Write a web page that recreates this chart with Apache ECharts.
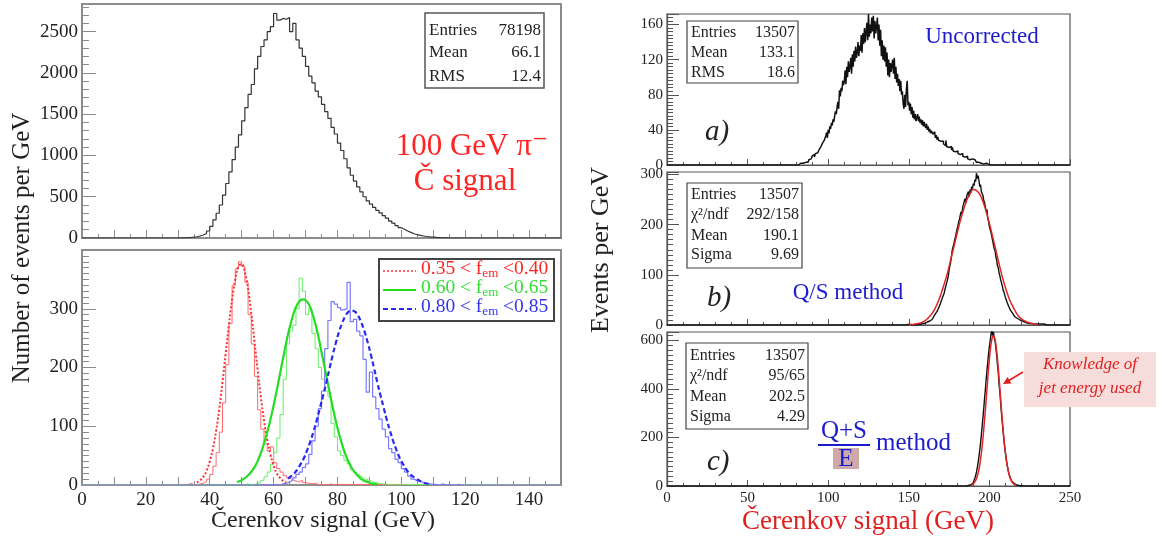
<!DOCTYPE html>
<html>
<head>
<meta charset="utf-8">
<script src="https://cdn.jsdelivr.net/npm/echarts@6.0.0/dist/echarts.min.js"></script>
<style>
html, body { margin: 0; padding: 0; background: #fff; }
#chart { width: 1164px; height: 550px; }
</style>
</head>
<body>
<div id="chart"></div>
<script>
const FONT = '"Liberation Serif", "DejaVu Serif", serif';

// ---- left: 100 GeV pi-, Cerenkov signal, 1 GeV bins (lower edge = start + i)
const allStart = 30;
const allBins = [1, 2, 4, 6, 10, 15, 24, 36, 55, 85,
  140, 220, 300, 400, 520, 660, 800, 950, 1100, 1250,
  1420, 1580, 1740, 1860, 2050, 2200, 2320, 2400, 2500, 2560,
  2720, 2640, 2660, 2650, 2670, 2500, 2600, 2400, 2300, 2200,
  2080, 1960, 1880, 1780, 1710, 1620, 1530, 1450, 1340, 1260,
  1150, 1060, 960, 850, 760, 690, 620, 560, 500, 450,
  410, 370, 335, 305, 270, 240, 205, 180, 150, 125,
  105, 85, 68, 52, 40, 32, 24, 18, 13, 10,
  7, 5, 3, 2, 1];

// f_em slices
const redStart = 30;
const redBins = [1, 0, 0, 3, 1, 0, 2, 3, 6, 10,
  18, 32, 55, 90, 140, 205, 275, 340, 368, 380,
  372, 345, 290, 240, 185, 128, 95, 70, 58, 65,
  38, 28, 22, 16, 12, 9, 7, 5, 8, 4,
  3, 2, 3, 1, 1, 0, 0, 2, 0, 1];
const redFitStart = 36;
const redFit = [4, 8, 14, 24, 40, 62, 92, 130, 175, 224, 272, 316, 350, 372, 376,
  362, 334, 292, 245, 196, 150, 110, 77, 52, 33, 20, 12, 7, 4];

const greenStart = 51;
const greenBins = [2, 0, 1, 3, 4, 8, 14, 22, 35, 55,
  80, 120, 180, 240, 262, 272, 300, 352, 330, 290,
  300, 258, 232, 200, 180, 160, 150, 105, 82, 58,
  50, 42, 36, 26, 22, 18, 14, 10, 8, 6,
  4, 3, 2, 2, 1, 0, 1, 0, 0, 1];
const greenFitStart = 48.5;
const greenFit = [5, 7, 10, 14, 19, 26, 35, 47, 62, 80, 100, 123, 148, 175, 203,
  230, 256, 278, 296, 308, 315, 316, 312, 302, 286, 265, 240, 213, 186, 159,
  133, 108, 87, 68, 52, 39, 29, 21, 15, 10, 7, 5, 3, 2, 1];

const blueStart = 60;
const blueBins = [1, 0, 2, 3, 5, 8, 12, 18, 22, 30,
  36, 52, 75, 100, 130, 160, 232, 280, 312, 308,
  302, 298, 300, 345, 278, 282, 262, 254, 214, 158,
  192, 150, 130, 112, 95, 82, 62, 55, 44, 38,
  28, 22, 15, 10, 7, 6, 4, 3, 2, 1,
  1, 0, 2, 0, 1, 0, 0, 1, 0, 0];
const blueFitStart = 64.5;
const blueFit = [11, 15, 20, 27, 36, 46, 59, 74, 91, 110, 131, 152, 174, 198, 221,
  242, 261, 276, 288, 295, 297, 295, 288, 276, 261, 242, 221, 198, 174, 152,
  131, 110, 91, 74, 59, 46, 36, 27, 20, 15, 11, 8, 5, 3, 2];

// ---- right: jet events, 0.5 GeV bins
const rawStart = 80;
const rawBins = [0, 1, 0, 0, 1, 2, 0, 1, 2, 1,
  2, 3, 1, 4, 3, 5, 6, 4, 7, 9,
  10, 8, 12, 9, 13, 11, 14, 16, 13, 18,
  17, 21, 19, 25, 23, 28, 26, 33, 37, 31,
  40, 36, 44, 41, 48, 45, 52, 49, 56, 61,
  58, 66, 72, 64, 85, 78, 88, 84, 96, 91,
  95, 108, 92, 112, 100, 118, 106, 112, 122, 104,
  126, 112, 130, 118, 135, 122, 128, 140, 124, 136,
  130, 148, 128, 150, 138, 156, 140, 152, 162, 142,
  172, 146, 160, 150, 168, 152, 170, 144, 164, 150,
  158, 168, 142, 160, 136, 154, 124, 142, 120, 136,
  118, 134, 112, 128, 102, 120, 100, 116, 106, 114,
  120, 104, 122, 98, 112, 94, 104, 90, 98, 84,
  96, 80, 84, 70, 64, 80, 66, 86, 96, 68,
  72, 62, 70, 58, 66, 54, 62, 52, 58, 50,
  54, 58, 50, 55, 48, 52, 46, 51, 44, 49,
  45, 42, 47, 40, 44, 38, 41, 36, 39, 37,
  35, 33, 38, 31, 34, 29, 32, 28, 30, 27,
  29, 25, 27, 24, 26, 22, 28, 21, 23, 20,
  22, 19, 21, 17, 20, 16, 18, 15, 17, 14,
  16, 13, 15, 12, 14, 11, 13, 10, 12, 9,
  11, 8, 10, 7, 9, 6, 8, 5, 7, 6,
  5, 6, 4, 5, 3, 4, 3, 2, 4, 2,
  3, 2, 1, 2, 1, 2, 0, 1, 1, 0,
  1, 0, 0, 1, 0, 0, 0, 0, 1, 0];

const qsStart = 148;
const qsBins = [0, 0, 1, 0, 0, 1, 0, 1, 0, 1,
  1, 0, 1, 2, 1, 1, 2, 1, 3, 2,
  3, 2, 4, 3, 5, 4, 6, 5, 7, 8,
  8, 10, 11, 13, 14, 17, 19, 22, 24, 27,
  30, 34, 37, 42, 45, 51, 56, 60, 64, 72,
  75, 84, 90, 98, 110, 118, 126, 138, 150, 156,
  162, 170, 176, 184, 192, 198, 206, 212, 220, 226,
  222, 236, 241, 248, 252, 244, 258, 262, 266, 256,
  270, 264, 276, 272, 282, 278, 290, 286, 303, 292,
  298, 288, 276, 280, 266, 262, 258, 248, 244, 236,
  226, 230, 212, 206, 196, 198, 184, 176, 168, 160,
  152, 148, 136, 130, 118, 114, 104, 98, 90, 84,
  78, 70, 66, 60, 54, 50, 45, 41, 37, 34,
  30, 28, 25, 22, 20, 18, 16, 14, 13, 12,
  11, 10, 9, 8, 8, 7, 6, 6, 5, 5,
  4, 5, 4, 3, 4, 3, 3, 2, 3, 2,
  2, 3, 2, 1, 2, 2, 1, 1, 2, 1,
  1, 2, 1, 1, 0, 1, 1, 0, 1, 0];
const qsFitStart = 150;
const qsFit = [1, 1, 2, 3, 5, 8, 14, 21, 31, 45, 62, 82, 104, 130, 156, 183, 208, 230,
  249, 262, 270, 268, 261, 246, 226, 203, 176, 149, 122, 96, 74, 55, 40, 28, 18,
  12, 8, 5, 3, 2, 1];

const qseStart = 184;
const qseBins = [0, 1, 0, 1, 1, 2, 2, 3, 5, 7,
  9, 13, 18, 24, 33, 44, 58, 76, 96, 120,
  148, 176, 210, 246, 282, 320, 362, 398, 440, 478,
  510, 548, 576, 600, 626, 644, 620, 636, 610, 598,
  570, 540, 500, 468, 420, 386, 342, 300, 262, 224,
  190, 160, 132, 108, 88, 70, 54, 42, 32, 24,
  18, 13, 10, 7, 5, 4, 3, 2, 2, 1,
  1, 1, 0, 1, 0, 0];
const qseFitStart = 188.5;
const qseFit = [3, 6, 13, 23, 41, 68, 109, 163, 233, 313, 401, 486, 557, 604, 620,
  604, 557, 486, 401, 313, 233, 163, 109, 68, 41, 23, 13, 6, 3];

// ---- helpers
function hist(start, width, vals, lo, hi) {
  const pts = [[lo, 0], [start, 0]];
  vals.forEach((v, i) => pts.push([start + i * width, v]));
  pts.push([start + vals.length * width, 0], [hi, 0]);
  return pts;
}
function curve(start, step, vals) {
  return vals.map((v, i) => [start + i * step, v]);
}

function axis(idx, o) {
  return {
    type: 'value', gridIndex: idx, min: o.min, max: o.max, interval: o.interval,
    axisLine: { show: true, lineStyle: { color: o.color, width: o.lw } },
    axisTick: { show: true, inside: true, length: o.tick, lineStyle: { color: o.color, width: 1 } },
    minorTick: { show: true, splitNumber: o.minor, length: o.tick / 2, lineStyle: { color: o.color, width: 1 } },
    splitLine: { show: false },
    minorSplitLine: { show: false },
    axisLabel: {
      show: o.labels, margin: o.margin, fontFamily: FONT, fontSize: o.fs, color: '#222',
      showMaxLabel: true, showMinLabel: true, hideOverlap: false,
      formatter: v => (Math.abs(v % o.every) < 1e-6 && v <= o.labelMax) ? String(v) : ''
    }
  };
}

const LG = '#8c8c8c', RG = '#555';
const grids = [
  { left: 82, top: 4, width: 479, height: 234 },
  { left: 82, top: 250, width: 479, height: 235 },
  { left: 667, top: 14, width: 403, height: 151 },
  { left: 667, top: 172, width: 403, height: 153 },
  { left: 667, top: 332, width: 403, height: 154 }
].map((g, i) => Object.assign(g, {
  show: true, borderColor: i < 2 ? LG : RG, borderWidth: i < 2 ? 2 : 1.2,
  backgroundColor: 'transparent', containLabel: false, outerBoundsMode: 'none'
}));

const lx = { min: 0, max: 150, interval: 10, every: 20, labelMax: 140, minor: 2, tick: 8, color: LG, lw: 2, fs: 19, margin: 6 };
const rx = { min: 0, max: 250, interval: 50, every: 50, labelMax: 250, minor: 5, tick: 6, color: RG, lw: 1.2, fs: 15, margin: 5 };

const xAxes = [
  axis(0, Object.assign({}, lx, { labels: false })),
  axis(1, Object.assign({}, lx, { labels: true })),
  axis(2, Object.assign({}, rx, { labels: false })),
  axis(3, Object.assign({}, rx, { labels: false })),
  axis(4, Object.assign({}, rx, { labels: true }))
];
const yAxes = [
  axis(0, { min: 0, max: 2835, interval: 500, every: 500, labelMax: 2500, minor: 5, tick: 14, color: LG, lw: 2, fs: 19, margin: 4, labels: true }),
  axis(1, { min: 0, max: 400, interval: 100, every: 100, labelMax: 300, minor: 10, tick: 14, color: LG, lw: 2, fs: 19, margin: 4, labels: true }),
  axis(2, { min: 0, max: 172, interval: 40, every: 40, labelMax: 160, minor: 10, tick: 12, color: RG, lw: 1.2, fs: 15, margin: 4, labels: true }),
  axis(3, { min: 0, max: 305, interval: 100, every: 100, labelMax: 300, minor: 10, tick: 12, color: RG, lw: 1.2, fs: 15, margin: 4, labels: true }),
  axis(4, { min: 0, max: 635, interval: 200, every: 200, labelMax: 600, minor: 10, tick: 12, color: RG, lw: 1.2, fs: 15, margin: 4, labels: true })
];

function stepSeries(idx, data, color, width, z) {
  return { type: 'line', xAxisIndex: idx, yAxisIndex: idx, data, step: 'end', symbol: 'none',
    lineStyle: { color, width }, z: z || 2, silent: true };
}
function fitSeries(idx, data, color, width, type, z) {
  return { type: 'line', xAxisIndex: idx, yAxisIndex: idx, data, smooth: 0.4, symbol: 'none',
    lineStyle: { color, width, type: type || 'solid' }, z: z || 3, silent: true };
}

const series = [
  stepSeries(0, hist(allStart, 1, allBins, 0, 150), '#333', 1.2),
  stepSeries(1, hist(redStart, 1, redBins, 0, 150), '#ff6a6a', 1),
  stepSeries(1, hist(greenStart, 1, greenBins, 0, 150), '#66ee66', 1),
  stepSeries(1, hist(blueStart, 1, blueBins, 0, 150), '#7a7aff', 1.2),
  fitSeries(1, curve(redFitStart, 1, redFit), '#ff3030', 2, [2, 2]),
  fitSeries(1, curve(greenFitStart, 1, greenFit), '#22dd22', 2.2, 'solid'),
  fitSeries(1, curve(blueFitStart, 1, blueFit), '#2a2aee', 2.2, [5, 3]),
  stepSeries(2, hist(rawStart, 0.5, rawBins, 0, 250), '#111', 1.5),
  stepSeries(3, hist(qsStart, 0.5, qsBins, 0, 250), '#111', 1.4),
  fitSeries(3, curve(qsFitStart, 2, qsFit), '#e02525', 1.5, 'solid', 4),
  stepSeries(4, hist(qseStart, 0.5, qseBins, 0, 250), '#111', 1.4),
  fitSeries(4, curve(qseFitStart, 1, qseFit), '#e02525', 1.5, 'solid', 4)
];

function txt(x, y, text, size, color, align, extra) {
  return Object.assign({
    type: 'text', x, y, z: 20,
    style: Object.assign({
      text, font: size + 'px ' + FONT, fill: color,
      align: align || 'left', textAlign: align || 'left',
      verticalAlign: 'middle', textVerticalAlign: 'middle'
    }, (extra && extra.style) || {})
  }, (extra && extra.el) || {});
}
function box(x, y, w, h, stroke, lw, fill) {
  return { type: 'rect', z: 15, shape: { x, y, width: w, height: h },
    style: { fill: fill || '#fff', stroke, lineWidth: lw } };
}
function line(x1, y1, x2, y2, color, width, dash) {
  return { type: 'line', z: 21, shape: { x1, y1, x2, y2 },
    style: { stroke: color, lineWidth: width, lineDash: dash || null } };
}

const RED = '#ff2424', BLUE = '#1c1ccf';
const sub = { s: { fontSize: 13, fontFamily: FONT, padding: [9, 0, 0, 0] } };
const it = s => ({ style: { font: 'italic ' + s + 'px ' + FONT } });

const graphic = [
  // left top stats
  box(425, 13, 119, 75, '#555', 1.5),
  txt(429, 31, 'Entries', 17, '#222'), txt(541, 31, '78198', 17, '#222', 'right'),
  txt(429, 53, 'Mean', 17, '#222'), txt(541, 53, '66.1', 17, '#222', 'right'),
  txt(429, 77, 'RMS', 17, '#222'), txt(541, 77, '12.4', 17, '#222', 'right'),
  txt(472, 147, '100 GeV \u03c0\u207b', 31, RED, 'center'),
  txt(465, 182, '\u010c signal', 31, RED, 'center'),
  // left bottom legend
  box(379, 259, 175, 62, '#444', 2),
  line(383, 271, 416, 271, '#ff3030', 1.6, [2, 2]),
  line(383, 290, 416, 290, '#22dd22', 2),
  line(383, 309, 416, 309, '#2a2aee', 2, [5, 3]),
  txt(421, 269, '0.35 < f{s|em} <0.40', 19.5, RED, 'left', { style: { rich: sub } }),
  txt(421, 288, '0.60 < f{s|em} <0.65', 19.5, '#33dd33', 'left', { style: { rich: sub } }),
  txt(421, 307, '0.80 < f{s|em} <0.85', 19.5, '#3333ee', 'left', { style: { rich: sub } }),
  // left axis titles
  txt(22, 248, 'Number of events per GeV', 25, '#222', 'center', { el: { rotation: Math.PI / 2 } }),
  txt(323, 521, '\u010cerenkov signal (GeV)', 24, '#222', 'center'),

  // right a
  box(687, 21, 111, 62, '#444', 1.2),
  txt(691, 33, 'Entries', 16, '#222'), txt(795, 33, '13507', 16, '#222', 'right'),
  txt(691, 53, 'Mean', 16, '#222'), txt(795, 53, '133.1', 16, '#222', 'right'),
  txt(691, 73, 'RMS', 16, '#222'), txt(795, 73, '18.6', 16, '#222', 'right'),
  txt(982, 37, 'Uncorrected', 23, BLUE, 'center'),
  txt(705, 132, 'a)', 29, '#222', 'left', it(29)),
  // right b
  box(687, 183, 115, 85, '#444', 1.2),
  txt(691, 195, 'Entries', 16, '#222'), txt(799, 195, '13507', 16, '#222', 'right'),
  txt(691, 215, '\u03c7\u00b2/ndf', 16, '#222'), txt(799, 215, '292/158', 16, '#222', 'right'),
  txt(691, 236, 'Mean', 16, '#222'), txt(799, 236, '190.1', 16, '#222', 'right'),
  txt(691, 255, 'Sigma', 16, '#222'), txt(799, 255, '9.69', 16, '#222', 'right'),
  txt(848, 293, 'Q/S method', 23, BLUE, 'center'),
  txt(707, 298, 'b)', 29, '#222', 'left', it(29)),
  // right c
  box(686, 343, 122, 86, '#444', 1.2),
  txt(690, 356, 'Entries', 16, '#222'), txt(805, 356, '13507', 16, '#222', 'right'),
  txt(690, 376, '\u03c7\u00b2/ndf', 16, '#222'), txt(805, 376, '95/65', 16, '#222', 'right'),
  txt(690, 397, 'Mean', 16, '#222'), txt(805, 397, '202.5', 16, '#222', 'right'),
  txt(690, 417, 'Sigma', 16, '#222'), txt(805, 417, '4.29', 16, '#222', 'right'),
  txt(707, 462, 'c)', 29, '#222', 'left', it(29)),
  txt(844, 431, 'Q+S', 25, BLUE, 'center'),
  line(818, 445, 870, 445, BLUE, 1.8),
  box(833, 448, 26, 21, 'none', 0, '#cfa9a9'),
  txt(846, 459, 'E', 25, BLUE, 'center'),
  txt(876, 443, 'method', 25, BLUE, 'left'),
  box(1024, 352, 132, 55, 'none', 0, '#f7dcdc'),
  txt(1090, 365, 'Knowledge of', 17, '#e02020', 'center', it(17)),
  txt(1090, 389, 'jet energy used', 17, '#e02020', 'center', it(17)),
  line(1023, 372, 1008, 381, '#e02020', 1.6),
  { type: 'polygon', z: 21, shape: { points: [[1003, 384], [1011.5, 383.5], [1007.5, 377]] }, style: { fill: '#e02020' } },
  // right axis titles
  txt(601, 250, 'Events per GeV', 26, '#222', 'center', { el: { rotation: Math.PI / 2 } }),
  txt(868, 522, '\u010cerenkov signal (GeV)', 27, '#e02020', 'center')
];

const chart = echarts.init(document.getElementById('chart'));
chart.setOption({
  animation: false,
  backgroundColor: '#fff',
  grid: grids,
  xAxis: xAxes,
  yAxis: yAxes,
  series,
  graphic
});
</script>
</body>
</html>
